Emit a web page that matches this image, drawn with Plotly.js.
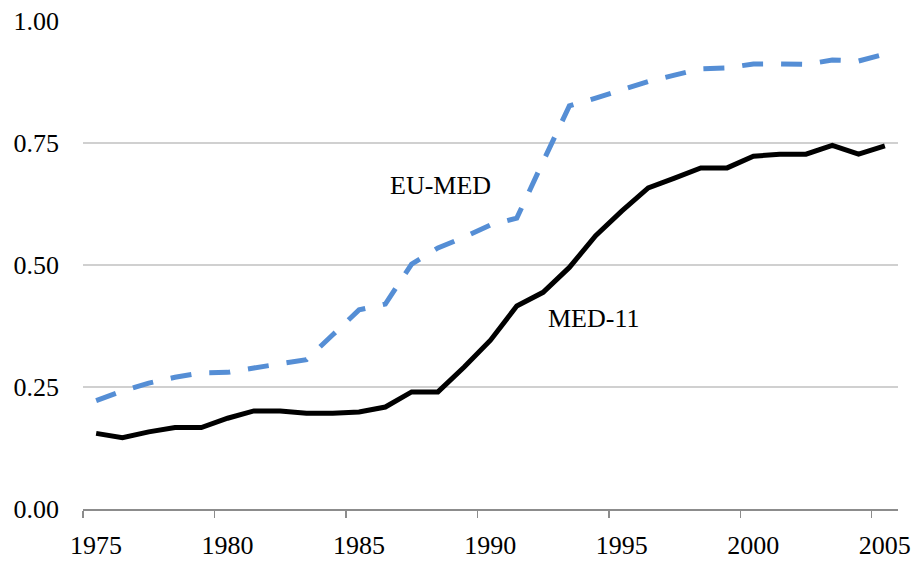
<!DOCTYPE html>
<html>
<head>
<meta charset="utf-8">
<script src="https://cdn.plot.ly/plotly-3.0.1.min.js"></script>
<style>html,body{margin:0;padding:0;background:#fff;}#chart{width:914px;height:561px;}</style>
</head>
<body>
<div id="chart"></div>
<script>
const years = [1975,1976,1977,1978,1979,1980,1981,1982,1983,1984,1985,1986,1987,1988,1989,1990,1991,1992,1993,1994,1995,1996,1997,1998,1999,2000,2001,2002,2003,2004,2005];
const euMed = [0.222,0.242,0.258,0.270,0.279,0.280,0.289,0.298,0.306,0.357,0.408,0.420,0.502,0.535,0.557,0.582,0.596,0.712,0.826,0.842,0.858,0.876,0.889,0.902,0.904,0.912,0.912,0.911,0.920,0.918,0.932];
const med11 = [0.155,0.146,0.158,0.167,0.167,0.186,0.201,0.201,0.196,0.196,0.199,0.209,0.240,0.240,0.291,0.346,0.416,0.444,0.495,0.560,0.611,0.658,0.678,0.699,0.699,0.723,0.727,0.727,0.745,0.727,0.744];
const xTickVals = [1974.5,1979.5,1984.5,1989.5,1994.5,1999.5,2004.5];
const xTickText = ['1975','1980','1985','1990','1995','2000','2005'];
const yTickVals = [0,0.25,0.5,0.75,1];
const yTickText = ['0.00','0.25','0.50','0.75','1.00'];
const seriesNames = ['EU-MED','MED-11'];

function mkFont() { return {family: 'Liberation Serif', size: 26, color: '#000000'}; }

const traces = [
  {x: years, y: euMed, type: 'scatter', mode: 'lines', name: seriesNames[0],
   line: {color: '#558ED5', width: 5, dash: '21px,18px'}},
  {x: years, y: med11, type: 'scatter', mode: 'lines', name: seriesNames[1],
   line: {color: '#000000', width: 5}}
];

const layout = {
  width: 914, height: 561,
  margin: {l: 83, r: 16, t: 21, b: 52, pad: 0},
  paper_bgcolor: '#fff', plot_bgcolor: '#fff',
  showlegend: false,
  font: mkFont(),
  xaxis: {
    range: [1974.5, 2005.5], tickmode: 'array', tickvals: xTickVals, ticktext: xTickText,
    ticklabelshift: 13, ticks: 'outside', ticklen: 7, tickwidth: 1.5, tickcolor: '#8c8c8c',
    showgrid: false, zeroline: false, showline: true, linecolor: '#8c8c8c', linewidth: 2,
    ticklabelstandoff: 5, tickfont: mkFont(), fixedrange: true
  },
  yaxis: {
    range: [0, 1], tickmode: 'array', tickvals: yTickVals, ticktext: yTickText,
    ticks: '', showgrid: true, gridcolor: '#d0d0d0', gridwidth: 1.5, zeroline: false,
    showline: false, ticklabelstandoff: 23, tickfont: mkFont(), fixedrange: true
  },
  annotations: [
    {x: 1988.1, y: 0.662, xref: 'x', yref: 'y', text: seriesNames[0], showarrow: false, font: mkFont()},
    {x: 1993.9, y: 0.391, xref: 'x', yref: 'y', text: seriesNames[1], showarrow: false, font: mkFont()}
  ]
};

Plotly.newPlot('chart', traces, layout, {staticPlot: true, displayModeBar: false});
</script>
</body>
</html>
